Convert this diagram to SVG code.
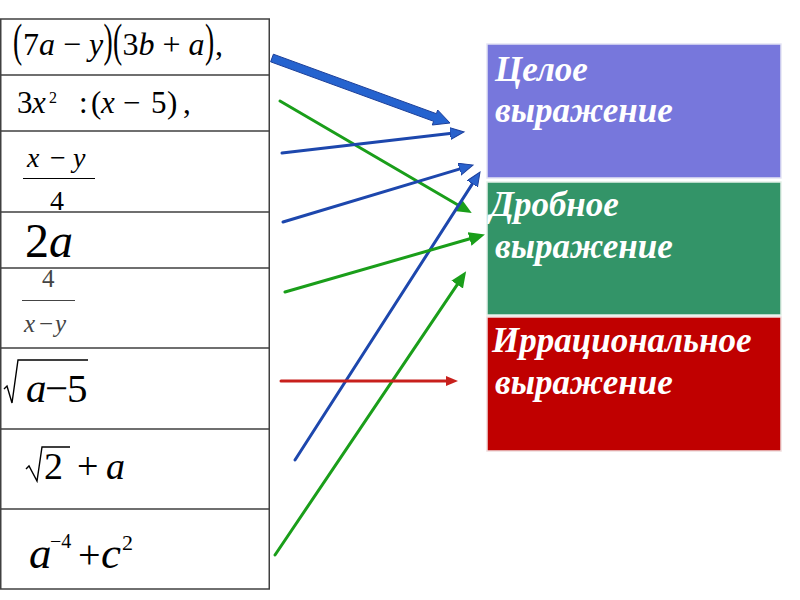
<svg xmlns="http://www.w3.org/2000/svg" width="800" height="600" viewBox="0 0 800 600">
<style>
.m{font-family:"Liberation Serif","Times New Roman",serif;fill:#000}
.i{font-style:italic}
.p{font-family:"Liberation Serif","Times New Roman",serif;font-size:46px;fill:#000}
.grid{stroke:#404040;stroke-width:1.5;fill:none}
.lbl{font-family:"Liberation Serif","Times New Roman",serif;font-weight:bold;font-style:italic;font-size:35px;fill:#fff}
.ln{fill:none;stroke-width:3;stroke-linecap:round}
</style>
<defs>
<marker id="hb" markerUnits="userSpaceOnUse" markerWidth="16" markerHeight="14" refX="4" refY="6" orient="auto"><path d="M0,0 L14,6 L0,12 z" fill="#2a62cc" stroke="#1b3f9c" stroke-width="1"/></marker>
<marker id="hg" markerUnits="userSpaceOnUse" markerWidth="18" markerHeight="16" refX="4" refY="7" orient="auto"><path d="M0,0 L16,7 L0,14 z" fill="#1a9e1a"/></marker>
<marker id="hr" markerUnits="userSpaceOnUse" markerWidth="14" markerHeight="12" refX="4" refY="5" orient="auto"><path d="M0,0 L12,5 L0,10 z" fill="#c8201c"/></marker>
</defs>
<rect width="800" height="600" fill="#fff"/>

<g id="table">
<rect class="grid" x="0.75" y="19" width="268.5" height="570"/>
<path class="grid" d="M0,75 H269 M0,131 H269 M0,212 H269 M0,268 H269 M0,348 H269 M0,429 H269 M0,509 H269"/>
</g>

<g id="expr1" class="m">
<text class="p" transform="translate(13,56) scale(0.6,1)">(</text>
<text x="23" y="55" font-size="32">7<tspan class="i">a</tspan> − <tspan class="i">y</tspan></text>
<text class="p" transform="translate(103.5,56) scale(0.6,1)">)</text>
<text class="p" transform="translate(113,56) scale(0.6,1)">(</text>
<text x="122.5" y="55" font-size="32">3<tspan class="i">b</tspan> + <tspan class="i">a</tspan></text>
<text class="p" transform="translate(205,56) scale(0.6,1)">)</text>
<text x="215" y="55" font-size="32">,</text>
</g>

<g id="expr2" class="m">
<text y="113" font-size="31"><tspan x="17">3</tspan><tspan x="32" class="i">x</tspan><tspan x="49" y="103" font-size="16">2</tspan><tspan x="79" y="113">:</tspan><tspan x="91">(</tspan><tspan x="101" class="i">x</tspan><tspan x="123">−</tspan><tspan x="151">5</tspan><tspan x="167">)</tspan><tspan x="183">,</tspan></text>
</g>

<g id="expr3" class="m">
<text y="167" font-size="28"><tspan x="27" class="i">x</tspan><tspan x="50">−</tspan><tspan x="73" class="i">y</tspan></text>
<line x1="23" y1="178.5" x2="95" y2="178.5" stroke="#000" stroke-width="1"/>
<text x="50" y="210" font-size="28">4</text>
</g>

<g id="expr4" class="m">
<text x="25" y="257" font-size="48">2<tspan class="i">a</tspan></text>
</g>

<g id="expr5" class="m">
<text x="42" y="287" font-size="25" fill="#444">4</text>
<line x1="22" y1="300.5" x2="75" y2="300.5" stroke="#444" stroke-width="1"/>
<text y="332" font-size="25" fill="#444"><tspan x="24" class="i">x</tspan><tspan x="39">−</tspan><tspan x="55" class="i">y</tspan></text>
</g>

<g id="expr6" class="m">
<path d="M4,389 L7,386 L12,403 L18,360 L88,360" fill="none" stroke="#000" stroke-width="1.4"/>
<text y="402" font-size="41"><tspan x="26" class="i">a</tspan><tspan x="45">−</tspan><tspan x="67">5</tspan></text>
</g>

<g id="expr7" class="m">
<path d="M26,469 L29,466 L37,481 L42,447 L70,447" fill="none" stroke="#000" stroke-width="1.4"/>
<text y="479" font-size="38"><tspan x="44">2</tspan><tspan x="77">+</tspan><tspan x="106" class="i">a</tspan></text>
</g>

<g id="expr8" class="m">
<text y="568" font-size="45"><tspan x="29" class="i">a</tspan><tspan x="50" y="548" font-size="20">−4</tspan><tspan x="78" y="568" font-size="40">+</tspan><tspan x="101" font-size="45" class="i">c</tspan><tspan x="122" y="550" font-size="22">2</tspan></text>
</g>

<g id="box-whole">
<rect x="487" y="44" width="294" height="134" fill="#7777dc" stroke="#e4e4f4" stroke-width="1.5"/>
<text class="lbl" x="495" y="81">Целое</text>
<text class="lbl" x="495" y="122">выражение</text>
</g>
<g id="box-fraction">
<rect x="487" y="182" width="294" height="133" fill="#339468" stroke="#e4efe8" stroke-width="1.5"/>
<text class="lbl" x="490" y="216">Дробное</text>
<text class="lbl" x="495" y="258">выражение</text>
</g>
<g id="box-irrational">
<rect x="487" y="317" width="294" height="134" fill="#c00000" stroke="#f0dcdc" stroke-width="1.5"/>
<text class="lbl" x="492" y="352">Иррациональное</text>
<text class="lbl" x="495" y="394">выражение</text>
</g>

<g id="connectors">
<polygon points="273.4,54.2 436.4,113.7 437.7,110.0 450,123 432.3,125.0 433.6,121.3 270.6,61.8" fill="#2563cf" stroke="#1c3f99" stroke-width="1"/>
<line class="ln" x1="280" y1="101" x2="461.4" y2="207" stroke="#1a9e1a" marker-end="url(#hg)"/>
<line class="ln" x1="282" y1="153" x2="454.1" y2="133.1" stroke="#1d47ad" marker-end="url(#hb)"/>
<line class="ln" x1="283" y1="222" x2="463.4" y2="167.9" stroke="#1d47ad" marker-end="url(#hb)"/>
<line class="ln" x1="295" y1="460" x2="474.6" y2="180.4" stroke="#1d47ad" marker-end="url(#hb)"/>
<line class="ln" x1="285" y1="292" x2="473.4" y2="237.8" stroke="#1a9e1a" marker-end="url(#hg)"/>
<line class="ln" x1="275" y1="555" x2="459.4" y2="281.3" stroke="#1a9e1a" marker-end="url(#hg)"/>
<line class="ln" x1="281" y1="381" x2="450" y2="381" stroke="#c8201c" stroke-width="2" marker-end="url(#hr)"/>
</g>
</svg>
